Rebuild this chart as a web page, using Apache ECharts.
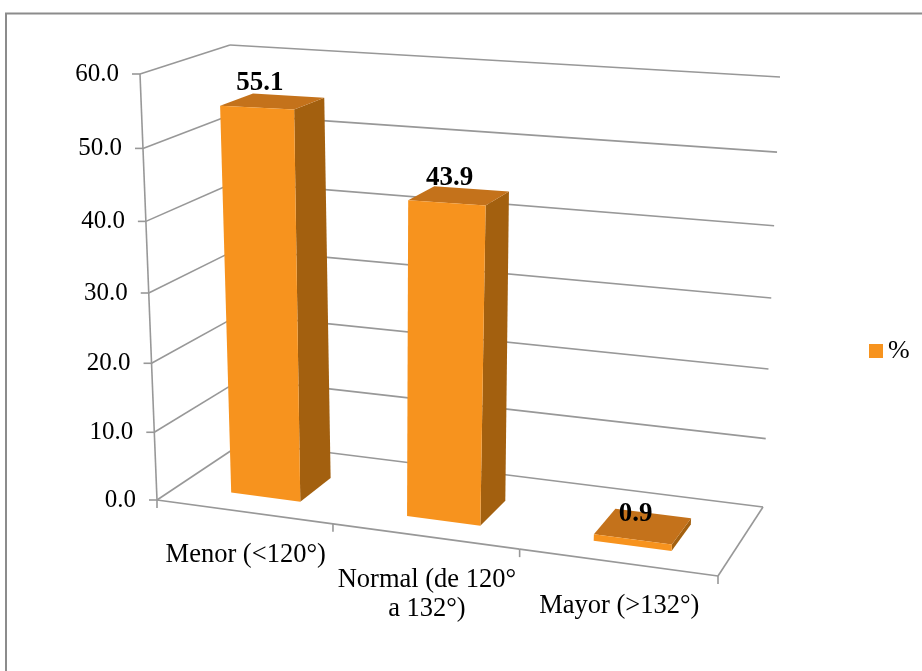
<!DOCTYPE html>
<html>
<head>
<meta charset="utf-8">
<script src="https://cdn.jsdelivr.net/npm/echarts@6/dist/echarts.min.js"></script>
<style>
html,body{margin:0;padding:0;background:#fff;}
#chart{width:922px;height:671px;}
</style>
</head>
<body>
<div id="chart"></div>
<script>
// ---- data ----
const categories = ['Menor (<120°)', 'Normal (de 120° a 132°)', 'Mayor (>132°)'];
const categoryLabels = ['Menor (<120°)', 'Normal (de 120°\na 132°)', 'Mayor (>132°)'];
const values = [55.1, 43.9, 0.9];
const seriesName = '%';
const yTicks = [0, 10, 20, 30, 40, 50, 60];
const yTickLabels = ['0.0', '10.0', '20.0', '30.0', '40.0', '50.0', '60.0'];

// ---- perspective box (layout) ----
const BOX = {
  f00: [157, 500], f01: [140, 74], f10: [718, 576], f11: [748, 99],
  b00: [244, 442], b01: [230, 45], b10: [763, 507], b11: [780, 77]
};
function fu(u) { return u / (1.094 - 0.094 * u); }
function gv(v) { return v / (1.058 - 0.058 * v); }
function bil(p00, p01, p10, p11, a, b) {
  const x = (1 - a) * ((1 - b) * p00[0] + b * p01[0]) + a * ((1 - b) * p10[0] + b * p11[0]);
  const y = (1 - a) * ((1 - b) * p00[1] + b * p01[1]) + a * ((1 - b) * p10[1] + b * p11[1]);
  return [x, y];
}
function P(u, v, w) {
  const a = fu(u), b = gv(v);
  const f = bil(BOX.f00, BOX.f01, BOX.f10, BOX.f11, a, b);
  const k = bil(BOX.b00, BOX.b01, BOX.b10, BOX.b11, a, b);
  return [(1 - w) * f[0] + w * k[0], (1 - w) * f[1] + w * k[1]];
}
function norm(params, api, xv, yv) {
  const cs = params.coordSys;
  const p = api.coord([xv, yv]);
  return { u: (p[0] - cs.x) / cs.width, v: (cs.y + cs.height - p[1]) / cs.height, band: api.size([1, 0])[0] / cs.width };
}

const FONT = '"Liberation Serif", "Times New Roman", serif';
const GRID_COLOR = '#989898';
const FRONT = '#F7931E', SIDE = '#A3600F', TOP = '#C4721B';
const WF = 0.25, WB = 0.64;

function line(p, q, color, width) {
  return { type: 'line', shape: { x1: p[0], y1: p[1], x2: q[0], y2: q[1] }, style: { stroke: color || GRID_COLOR, lineWidth: width || 1.6 } };
}

const chart = echarts.init(document.getElementById('chart'), null, { renderer: 'canvas' });

const option = {
  animation: false,
  backgroundColor: '#ffffff',
  grid: { left: 0, right: 0, top: 0, bottom: 0 },
  xAxis: { type: 'category', data: categories, show: false },
  yAxis: { type: 'value', min: 0, max: 60, interval: 10, show: false },
  legend: {
    data: [seriesName], left: 864, top: 333, icon: 'rect', itemWidth: 14, itemHeight: 14, itemGap: 5,
    textStyle: { fontFamily: FONT, fontSize: 26, color: '#000' }
  },
  graphic: [{
    type: 'rect', shape: { x: 6, y: 13.5, width: 960, height: 720 },
    style: { fill: 'none', stroke: '#8c8c8c', lineWidth: 2 }, z: 0
  }],
  series: [
    { // walls: gridlines and value labels
      type: 'custom', name: 'walls', z: 1, silent: true,
      data: yTicks.map((t, i) => [0, t, i]),
      renderItem: function (params, api) {
        const n = norm(params, api, 0, api.value(1));
        const v = n.v;
        const fl = P(0, v, 0), bl = P(0, v, 1), br = P(1, v, 1);
        const idx = api.value(2);
        return {
          type: 'group', children: [
            line(fl, bl), line(bl, br),
            line([fl[0] - 8, fl[1]], fl),
            { type: 'text', style: { text: yTickLabels[idx], x: fl[0] - 21, y: fl[1], align: 'right', verticalAlign: 'middle', fontFamily: FONT, fontSize: 25, fill: '#000' } }
          ]
        };
      }
    },
    { // floor front edge, ticks and category labels
      type: 'custom', name: 'frame', z: 2, silent: true,
      data: categories.map((c, i) => [i, 0]),
      renderItem: function (params, api) {
        const i = api.value(0);
        const n = norm(params, api, i, 0);
        const u0 = n.u - n.band / 2, u1 = n.u + n.band / 2;
        const p0 = P(u0, 0, 0), p1 = P(u1, 0, 0), pm = P(n.u, 0, 0);
        const ch = [line(p0, p1), line(p0, [p0[0], p0[1] + 8])];
        if (i === 0) ch.push(line(P(0, 0, 0), P(0, 1, 0)));
        if (i === categories.length - 1) {
          ch.push(line(p1, [p1[0], p1[1] + 8]));
          ch.push(line(P(1, 0, 0), P(1, 0, 1)));
        }
        ch.push({ type: 'text', style: { text: categoryLabels[i], x: pm[0] + 2, y: pm[1] + 29, align: 'center', verticalAlign: 'top', lineHeight: 29, fontFamily: FONT, fontSize: 26.5, fill: '#000' } });
        return { type: 'group', children: ch };
      }
    },
    { // 3D bars
      type: 'custom', name: seriesName, z: 3,
      itemStyle: { color: FRONT },
      data: values.map((v, i) => [i, v]),
      renderItem: function (params, api) {
        const n = norm(params, api, api.value(0), api.value(1));
        const hw = n.band * 0.2;
        const uc = n.u + n.band * 0.01;
        const u0 = uc - hw, u1 = uc + hw, v = n.v;
        const poly = (pts, fill) => ({ type: 'polygon', shape: { points: pts }, style: { fill: fill } });
        const side = [P(u1, 0, WF), P(u1, 0, WB), P(u1, v, WB), P(u1, v, WF)];
        const top = [P(u0, v, WF), P(u1, v, WF), P(u1, v, WB), P(u0, v, WB)];
        const front = [P(u0, 0, WF), P(u1, 0, WF), P(u1, v, WF), P(u0, v, WF)];
        const lab = P(uc, v, WF);
        return {
          type: 'group', children: [
            poly(side, SIDE), poly(top, TOP), poly(front, FRONT),
            { type: 'text', style: { text: api.value(1).toFixed(1), x: lab[0] + 3, y: lab[1] - 25, align: 'center', verticalAlign: 'middle', fontFamily: FONT, fontSize: 27, fontWeight: 'bold', fill: '#000' } }
          ]
        };
      }
    }
  ]
};
chart.setOption(option);
</script>
</body>
</html>
